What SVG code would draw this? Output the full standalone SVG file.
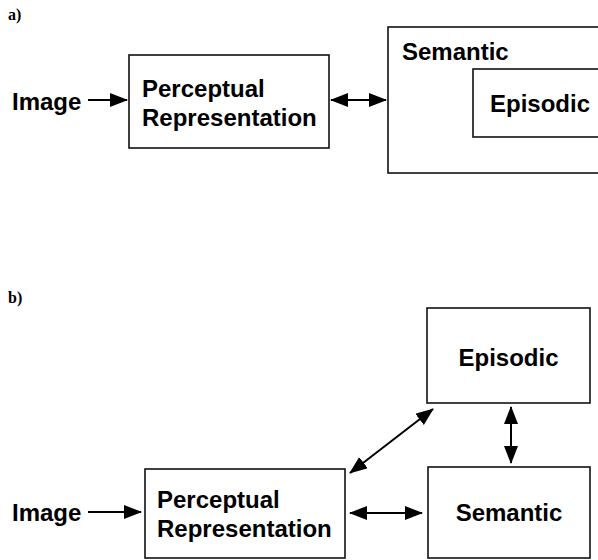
<svg xmlns="http://www.w3.org/2000/svg" width="598" height="560" viewBox="0 0 598 560">
<defs>
<marker id="ah" markerUnits="userSpaceOnUse" markerWidth="19" markerHeight="15" refX="17" refY="7" orient="auto-start-reverse">
<path d="M0,0 L18,7 L0,14 z" fill="#000"/>
</marker>
<style>
.box{fill:#fff;stroke:#111;stroke-width:1.6}
.t{font-family:"Liberation Sans",Arial,sans-serif;font-weight:bold;font-size:24px;fill:#000}
.lab{font-family:"Liberation Serif","Times New Roman",serif;font-weight:bold;font-size:16px;fill:#000}
.c{stroke:#000;stroke-width:2;fill:none}
</style>
</defs>
<rect width="598" height="560" fill="#fff"/>
<text class="lab" x="8" y="20">a)</text>
<text class="lab" x="8" y="303">b)</text>
<g id="a-image"><text class="t" x="12" y="110">Image</text></g>
<g id="a-perceptual">
<rect class="box" x="129" y="55" width="200" height="93"/>
<text class="t" x="142" y="97">Perceptual</text>
<text class="t" x="142" y="126">Representation</text>
</g>
<g id="a-semantic">
<rect class="box" x="388" y="27" width="214" height="146"/>
<text class="t" x="402" y="60">Semantic</text>
</g>
<g id="a-episodic">
<rect class="box" x="473" y="69" width="129" height="68"/>
<text class="t" x="490" y="112">Episodic</text>
</g>
<g id="b-image"><text class="t" x="12" y="521">Image</text></g>
<g id="b-perceptual">
<rect class="box" x="145" y="469" width="200" height="89"/>
<text class="t" x="157" y="508">Perceptual</text>
<text class="t" x="157" y="537">Representation</text>
</g>
<g id="b-episodic">
<rect class="box" x="427" y="308" width="163" height="95"/>
<text class="t" x="508.5" y="366" text-anchor="middle">Episodic</text>
</g>
<g id="b-semantic">
<rect class="box" x="428" y="467" width="162" height="91"/>
<text class="t" x="509" y="521" text-anchor="middle">Semantic</text>
</g>
<g id="connectors">
<line class="c" x1="88" y1="100" x2="127" y2="100" marker-end="url(#ah)"/>
<line class="c" x1="331" y1="100" x2="386" y2="100" marker-start="url(#ah)" marker-end="url(#ah)"/>
<line class="c" x1="88" y1="512" x2="141" y2="512" marker-end="url(#ah)"/>
<line class="c" x1="350" y1="513" x2="422" y2="513" marker-start="url(#ah)" marker-end="url(#ah)"/>
<line class="c" x1="350" y1="473" x2="433" y2="409" marker-start="url(#ah)" marker-end="url(#ah)"/>
<line class="c" x1="511" y1="407" x2="511" y2="463" marker-start="url(#ah)" marker-end="url(#ah)"/>
</g>
</svg>
